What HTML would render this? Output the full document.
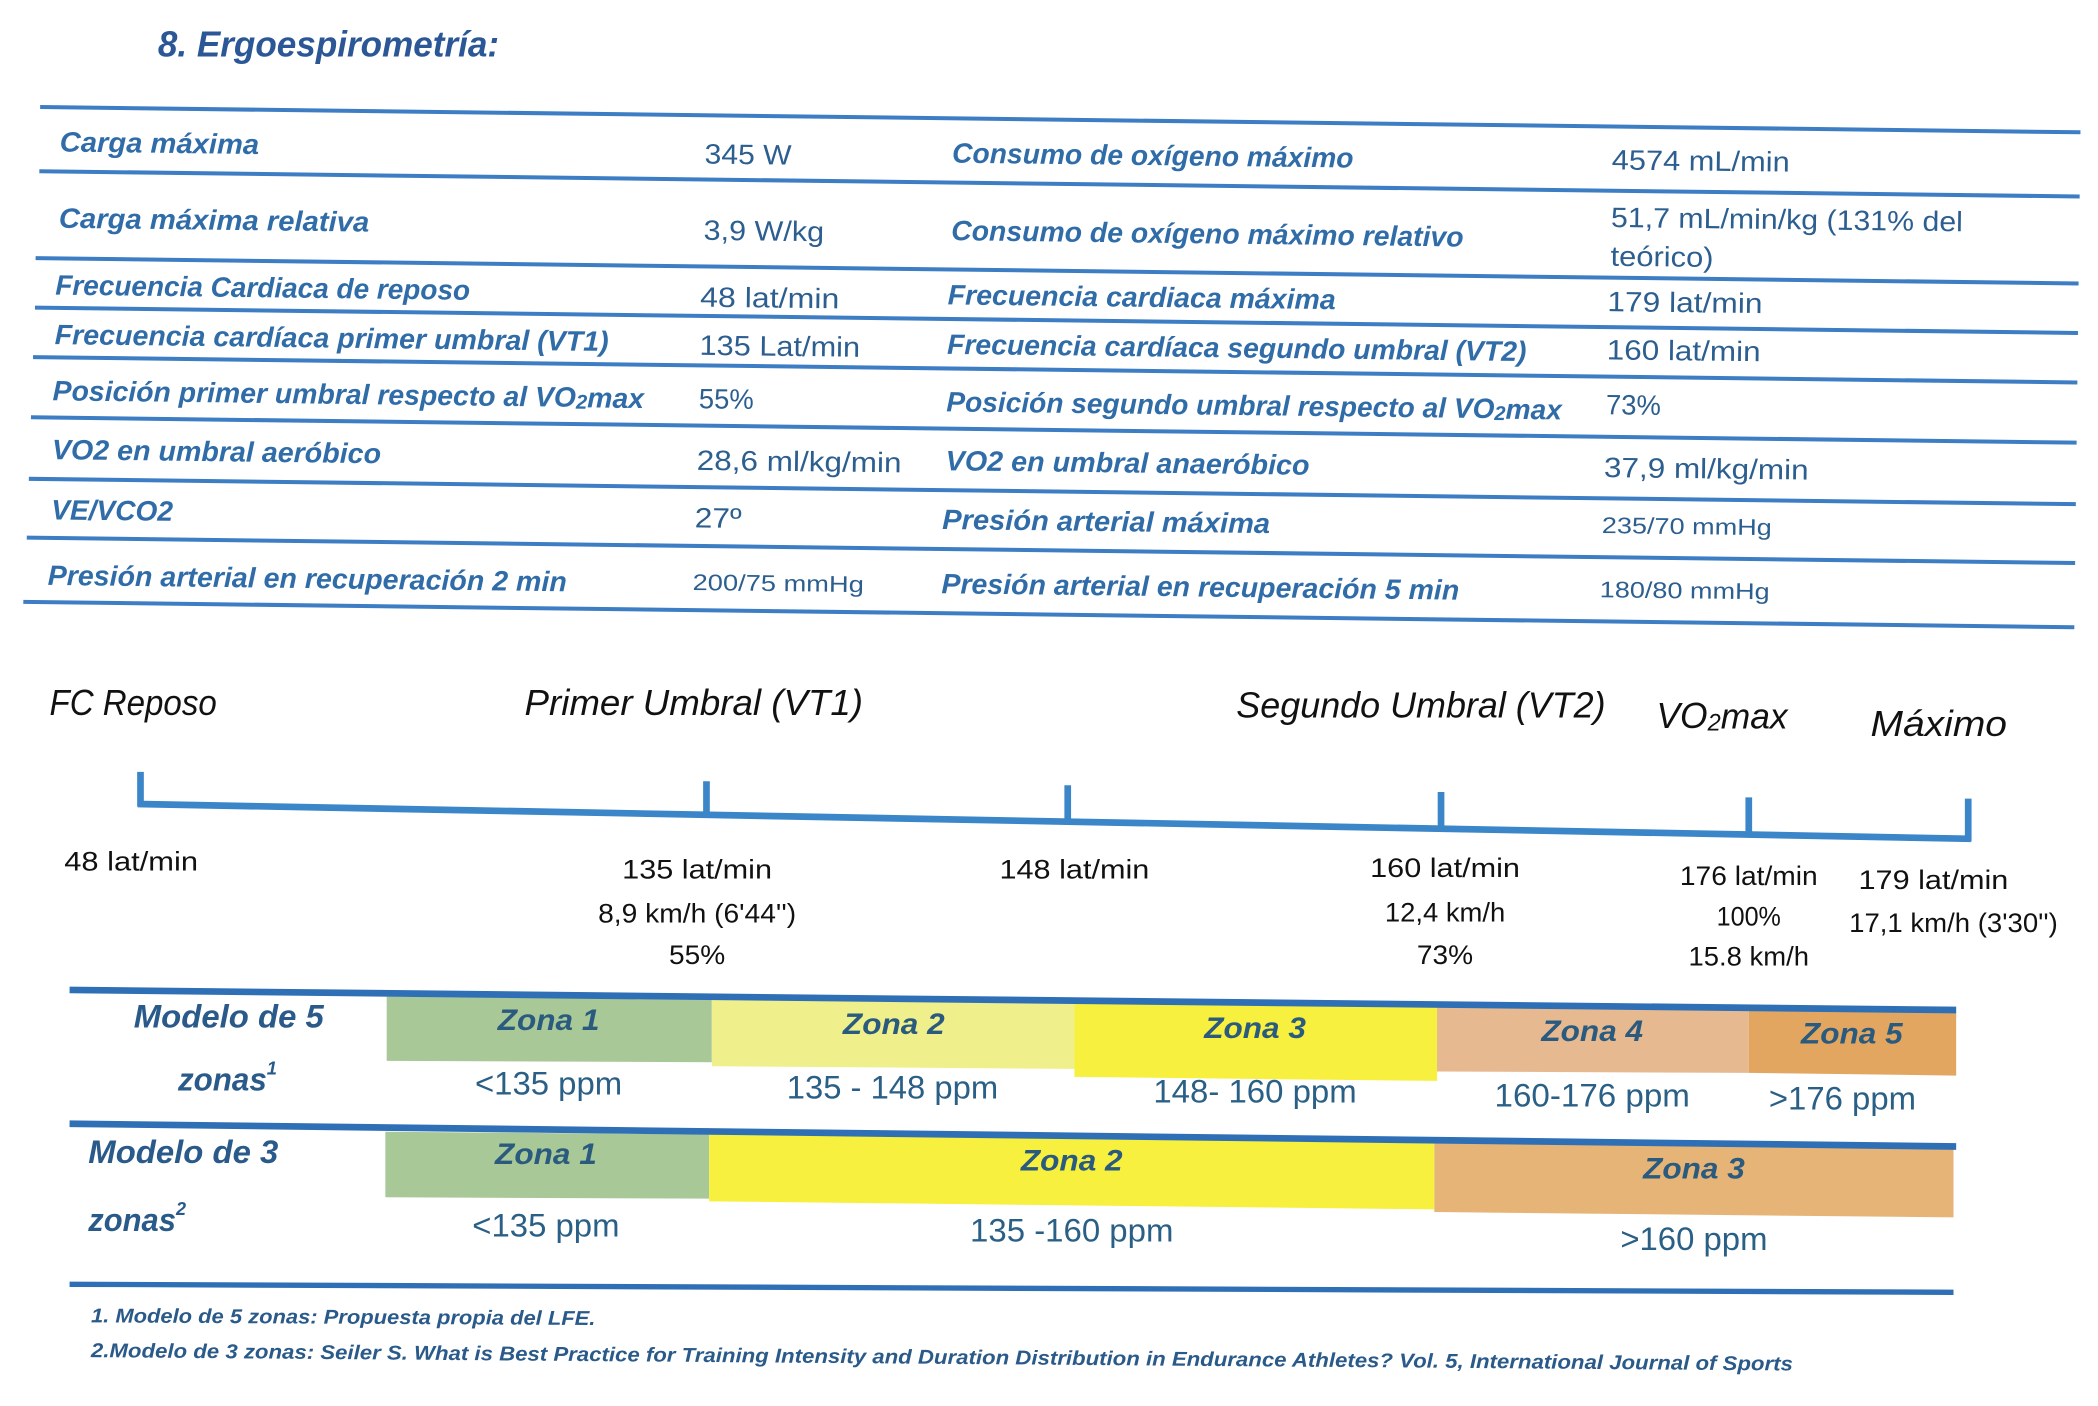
<!DOCTYPE html>
<html><head><meta charset="utf-8"><style>
html,body{margin:0;padding:0;background:#fff;width:2098px;height:1406px;overflow:hidden}
svg{display:block}
.lb{font-family:"Liberation Sans",sans-serif;font-weight:bold;font-style:italic;fill:#2f6ca8;font-size:21px}
.vl{font-family:"Liberation Sans",sans-serif;fill:#2c5f90;font-size:21px}
.sm{font-size:17px}
.hd{font-family:"Liberation Sans",sans-serif;font-style:italic;fill:#111;font-size:27px}
.bl{font-family:"Liberation Sans",sans-serif;fill:#111;font-size:20px}
.zn{font-family:"Liberation Sans",sans-serif;font-weight:bold;font-style:italic;fill:#2a5a7e;font-size:22px}
.rg{font-family:"Liberation Sans",sans-serif;fill:#2a5f86;font-size:24px}
.md{font-family:"Liberation Sans",sans-serif;font-weight:bold;font-style:italic;fill:#2a5a8a;font-size:24px}
.fn{font-family:"Liberation Sans",sans-serif;font-weight:bold;font-style:italic;fill:#2a5a8a;font-size:15px}
</style></head><body>
<svg width="2098" height="1406" viewBox="0 0 1568 1051" preserveAspectRatio="none" xmlns="http://www.w3.org/2000/svg">
<text x="118" y="33" dominant-baseline="central" class="md" style="font-size:27px;fill:#2b5797" textLength="255" lengthAdjust="spacingAndGlyphs">8. Ergoespirometría:</text>

<g transform="rotate(0.71 30 80)">
<g stroke="#3d7dc4" stroke-width="3">
<line x1="30" y1="80" x2="1555" y2="80"/><line x1="30" y1="128" x2="1555" y2="128"/>
<line x1="28" y1="193" x2="1555" y2="193"/><line x1="28" y1="230" x2="1555" y2="230"/>
<line x1="27" y1="267" x2="1555" y2="267"/><line x1="26" y1="312" x2="1555" y2="312"/>
<line x1="25" y1="358" x2="1555" y2="358"/><line x1="24" y1="402" x2="1555" y2="402"/>
<line x1="22" y1="450" x2="1555" y2="450"/>
</g>
<g dominant-baseline="central">
<text x="45" y="106" class="lb" textLength="149" lengthAdjust="spacingAndGlyphs">Carga máxima</text>
<text x="527" y="109" class="vl" textLength="65" lengthAdjust="spacingAndGlyphs">345 W</text>
<text x="712" y="106" class="lb" textLength="300" lengthAdjust="spacingAndGlyphs">Consumo de oxígeno máximo</text>
<text x="1205" y="105" class="vl" textLength="133" lengthAdjust="spacingAndGlyphs">4574 mL/min</text>

<text x="45" y="163" class="lb" textLength="232" lengthAdjust="spacingAndGlyphs">Carga máxima relativa</text>
<text x="527" y="166" class="vl" textLength="90" lengthAdjust="spacingAndGlyphs">3,9 W/kg</text>
<text x="712" y="164" class="lb" textLength="383" lengthAdjust="spacingAndGlyphs">Consumo de oxígeno máximo relativo</text>
<text x="1205" y="148" class="vl" textLength="263" lengthAdjust="spacingAndGlyphs">51,7 mL/min/kg (131% del</text>
<text x="1205" y="177" class="vl" textLength="77" lengthAdjust="spacingAndGlyphs">teórico)</text>

<text x="43" y="213" class="lb" textLength="310" lengthAdjust="spacingAndGlyphs">Frecuencia Cardiaca de reposo</text>
<text x="525" y="216" class="vl" textLength="104" lengthAdjust="spacingAndGlyphs">48 lat/min</text>
<text x="710" y="212" class="lb" textLength="290" lengthAdjust="spacingAndGlyphs">Frecuencia cardiaca máxima</text>
<text x="1203" y="211" class="vl" textLength="116" lengthAdjust="spacingAndGlyphs">179 lat/min</text>

<text x="43" y="250" class="lb" textLength="414" lengthAdjust="spacingAndGlyphs">Frecuencia cardíaca primer umbral (VT1)</text>
<text x="525" y="252" class="vl" textLength="120" lengthAdjust="spacingAndGlyphs">135 Lat/min</text>
<text x="710" y="249" class="lb" textLength="433" lengthAdjust="spacingAndGlyphs">Frecuencia cardíaca segundo umbral (VT2)</text>
<text x="1203" y="247" class="vl" textLength="115" lengthAdjust="spacingAndGlyphs">160 lat/min</text>

<text x="42" y="292" class="lb" textLength="442" lengthAdjust="spacingAndGlyphs">Posición primer umbral respecto al VO<tspan font-size="15" dy="4">2</tspan><tspan dy="-4">max</tspan></text>
<text x="525" y="292" class="vl" textLength="41" lengthAdjust="spacingAndGlyphs">55%</text>
<text x="710" y="292" class="lb" textLength="460" lengthAdjust="spacingAndGlyphs">Posición segundo umbral respecto al VO<tspan font-size="15" dy="4">2</tspan><tspan dy="-4">max</tspan></text>
<text x="1203" y="288" class="vl" textLength="41" lengthAdjust="spacingAndGlyphs">73%</text>

<text x="42" y="336" class="lb" textLength="246" lengthAdjust="spacingAndGlyphs">VO2 en umbral aeróbico</text>
<text x="524" y="338" class="vl" textLength="153" lengthAdjust="spacingAndGlyphs">28,6 ml/kg/min</text>
<text x="710" y="336" class="lb" textLength="272" lengthAdjust="spacingAndGlyphs">VO2 en umbral anaeróbico</text>
<text x="1202" y="335" class="vl" textLength="153" lengthAdjust="spacingAndGlyphs">37,9 ml/kg/min</text>

<text x="42" y="381" class="lb" textLength="91" lengthAdjust="spacingAndGlyphs">VE/VCO2</text>
<text x="523" y="381" class="vl" textLength="35" lengthAdjust="spacingAndGlyphs">27º</text>
<text x="708" y="380" class="lb" textLength="245" lengthAdjust="spacingAndGlyphs">Presión arterial máxima</text>
<text x="1201" y="378" class="vl sm" textLength="127" lengthAdjust="spacingAndGlyphs">235/70 mmHg</text>

<text x="40" y="430" class="lb" textLength="388" lengthAdjust="spacingAndGlyphs">Presión arterial en recuperación 2 min</text>
<text x="522" y="429" class="vl sm" textLength="128" lengthAdjust="spacingAndGlyphs">200/75 mmHg</text>
<text x="708" y="428" class="lb" textLength="387" lengthAdjust="spacingAndGlyphs">Presión arterial en recuperación 5 min</text>
<text x="1200" y="426" class="vl sm" textLength="127" lengthAdjust="spacingAndGlyphs">180/80 mmHg</text>
</g>
</g>

<g dominant-baseline="central">
<text x="37" y="525" class="hd" textLength="125" lengthAdjust="spacingAndGlyphs">FC Reposo</text>
<text x="392" y="525" class="hd" textLength="253" lengthAdjust="spacingAndGlyphs">Primer Umbral (VT1)</text>
<text x="924" y="527" class="hd" textLength="276" lengthAdjust="spacingAndGlyphs">Segundo Umbral (VT2)</text>
<text x="1238" y="535" class="hd" textLength="98" lengthAdjust="spacingAndGlyphs">VO<tspan font-size="18" dy="5">2</tspan><tspan dy="-5">max</tspan></text>
<text x="1398" y="541" class="hd" textLength="102" lengthAdjust="spacingAndGlyphs">Máximo</text>
</g>

<g stroke="#3a86c8" stroke-width="5" stroke-linecap="butt">
<line x1="103" y1="601" x2="1473" y2="627"/>
<line x1="105" y1="577" x2="105" y2="603"/>
<line x1="528" y1="584" x2="528" y2="609"/>
<line x1="798" y1="587" x2="798" y2="614"/>
<line x1="1077" y1="592" x2="1077" y2="619"/>
<line x1="1307" y1="596" x2="1307" y2="624"/>
<line x1="1471" y1="597" x2="1471" y2="629"/>
</g>

<g dominant-baseline="central" text-anchor="middle">
<text x="98" y="644" class="bl" textLength="100" lengthAdjust="spacingAndGlyphs">48 lat/min</text>
<text x="521" y="650" class="bl" textLength="112" lengthAdjust="spacingAndGlyphs">135 lat/min</text>
<text x="521" y="683" class="bl" textLength="148" lengthAdjust="spacingAndGlyphs">8,9 km/h (6'44'')</text>
<text x="521" y="714" class="bl" textLength="42" lengthAdjust="spacingAndGlyphs">55%</text>
<text x="803" y="650" class="bl" textLength="112" lengthAdjust="spacingAndGlyphs">148 lat/min</text>
<text x="1080" y="649" class="bl" textLength="112" lengthAdjust="spacingAndGlyphs">160 lat/min</text>
<text x="1080" y="682" class="bl" textLength="90" lengthAdjust="spacingAndGlyphs">12,4 km/h</text>
<text x="1080" y="714" class="bl" textLength="42" lengthAdjust="spacingAndGlyphs">73%</text>
<text x="1307" y="655" class="bl" textLength="103" lengthAdjust="spacingAndGlyphs">176 lat/min</text>
<text x="1307" y="685" class="bl" textLength="48" lengthAdjust="spacingAndGlyphs">100%</text>
<text x="1307" y="715" class="bl" textLength="90" lengthAdjust="spacingAndGlyphs">15.8 km/h</text>
<text x="1445" y="658" class="bl" textLength="112" lengthAdjust="spacingAndGlyphs">179 lat/min</text>
<text x="1460" y="690" class="bl" textLength="156" lengthAdjust="spacingAndGlyphs">17,1 km/h (3'30'')</text>
</g>

<polygon points="289,745 532,747 532,794 289,793" fill="#a9c898"/>
<polygon points="532,747 803,750 803,799 532,797" fill="#eff08c"/>
<polygon points="803,750 1074,752 1074,808 803,805" fill="#f7f03e"/>
<polygon points="1074,752 1307,754 1307,802 1074,801" fill="#e6b991"/>
<polygon points="1307,754 1462,756 1462,804 1307,802" fill="#e2a660"/>
<line x1="52" y1="740" x2="1462" y2="755" stroke="#2f6fb5" stroke-width="5"/>

<polygon points="288,846 530,848 530,896 288,895" fill="#a9c898"/>
<polygon points="530,848 1072,853 1072,904 530,898" fill="#f7f03e"/>
<polygon points="1072,853 1460,857 1460,910 1072,906" fill="#e6b477"/>
<line x1="52" y1="840" x2="1462" y2="857" stroke="#2f6fb5" stroke-width="5"/>
<line x1="52" y1="960" x2="1460" y2="966" stroke="#2f6fb5" stroke-width="4"/>

<g dominant-baseline="central">
<text x="100" y="760" class="md" textLength="142" lengthAdjust="spacingAndGlyphs">Modelo de 5</text>
<text x="133" y="807" class="md" textLength="74" lengthAdjust="spacingAndGlyphs">zonas<tspan font-size="14" dy="-9">1</tspan></text>
<text x="66" y="861" class="md" textLength="142" lengthAdjust="spacingAndGlyphs">Modelo de 3</text>
<text x="66" y="912" class="md" textLength="73" lengthAdjust="spacingAndGlyphs">zonas<tspan font-size="14" dy="-9">2</tspan></text>
</g>
<g dominant-baseline="central" text-anchor="middle">
<text x="410" y="763" class="zn" textLength="76" lengthAdjust="spacingAndGlyphs">Zona 1</text>
<text x="668" y="766" class="zn" textLength="76" lengthAdjust="spacingAndGlyphs">Zona 2</text>
<text x="938" y="769" class="zn" textLength="76" lengthAdjust="spacingAndGlyphs">Zona 3</text>
<text x="1190" y="771" class="zn" textLength="76" lengthAdjust="spacingAndGlyphs">Zona 4</text>
<text x="1384" y="773" class="zn" textLength="76" lengthAdjust="spacingAndGlyphs">Zona 5</text>
<text x="410" y="810" class="rg" textLength="110" lengthAdjust="spacingAndGlyphs">&lt;135 ppm</text>
<text x="667" y="813" class="rg" textLength="158" lengthAdjust="spacingAndGlyphs">135 - 148 ppm</text>
<text x="938" y="816" class="rg" textLength="152" lengthAdjust="spacingAndGlyphs">148- 160 ppm</text>
<text x="1190" y="819" class="rg" textLength="146" lengthAdjust="spacingAndGlyphs">160-176 ppm</text>
<text x="1377" y="821" class="rg" textLength="110" lengthAdjust="spacingAndGlyphs">&gt;176 ppm</text>
<text x="408" y="863" class="zn" textLength="76" lengthAdjust="spacingAndGlyphs">Zona 1</text>
<text x="801" y="868" class="zn" textLength="76" lengthAdjust="spacingAndGlyphs">Zona 2</text>
<text x="1266" y="874" class="zn" textLength="76" lengthAdjust="spacingAndGlyphs">Zona 3</text>
<text x="408" y="916" class="rg" textLength="110" lengthAdjust="spacingAndGlyphs">&lt;135 ppm</text>
<text x="801" y="920" class="rg" textLength="152" lengthAdjust="spacingAndGlyphs">135 -160 ppm</text>
<text x="1266" y="926" class="rg" textLength="110" lengthAdjust="spacingAndGlyphs">&gt;160 ppm</text>
</g>

<g dominant-baseline="central">
<text x="68" y="984" class="fn" transform="rotate(0.3 68 984)" textLength="377" lengthAdjust="spacingAndGlyphs">1. Modelo de 5 zonas: Propuesta propia del LFE.</text>
<text x="68" y="1010" class="fn" transform="rotate(0.45 68 1010)" textLength="1272" lengthAdjust="spacingAndGlyphs">2.Modelo de 3 zonas: Seiler S. What is Best Practice for Training Intensity and Duration Distribution in Endurance Athletes? Vol. 5, International Journal of Sports</text>
</g>
</svg>
</body></html>
